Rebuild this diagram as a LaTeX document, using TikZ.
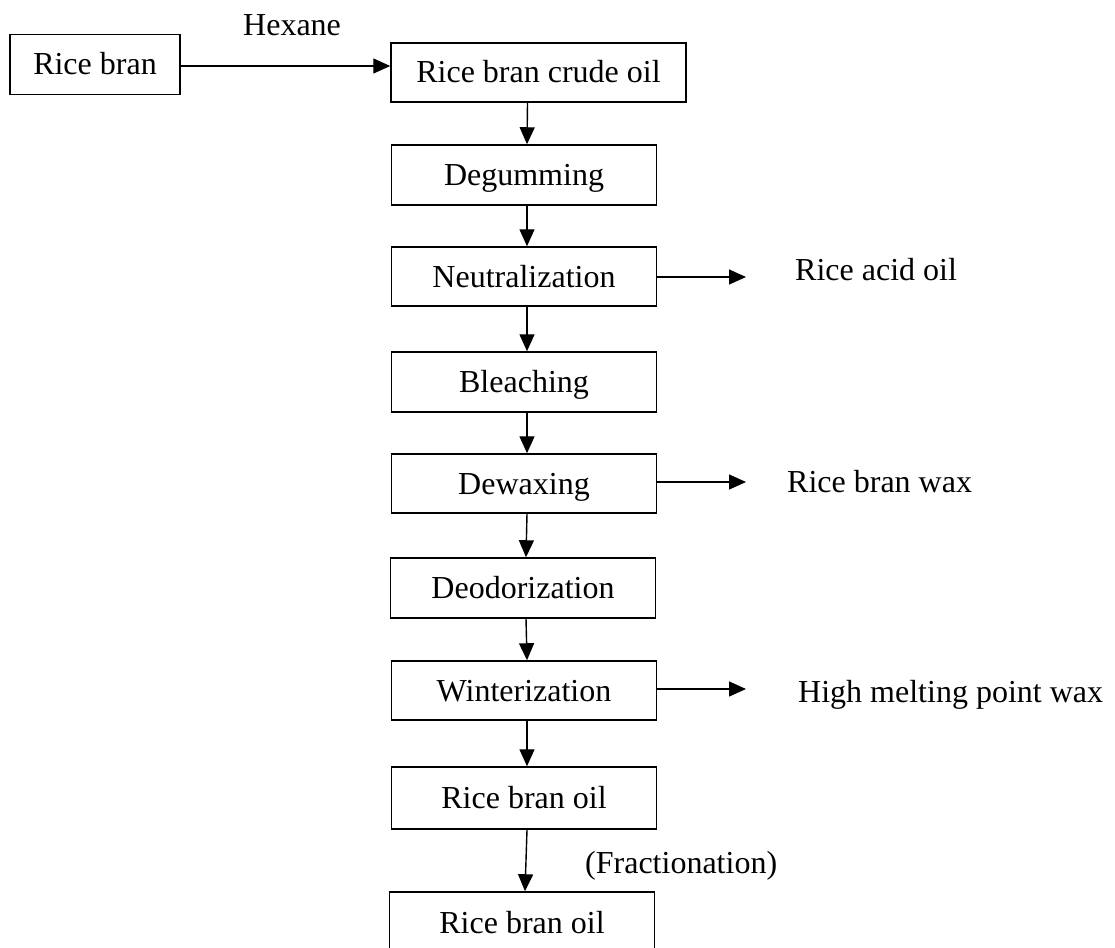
\documentclass[tikz,border=0pt]{standalone}
\usepackage{fontspec}
\setmainfont{Liberation Serif}
\usetikzlibrary{arrows.meta}
\begin{document}
\begin{tikzpicture}[x=1pt,y=-1pt,
  every node/.style={font=\fontsize{32}{38}\selectfont},
  procbox/.style={draw,line width=1.5pt,minimum height=60pt,minimum width=265pt,inner sep=0pt,text height=21pt,text depth=0pt},
  lbl/.style={anchor=base west,inner sep=0pt},
  arr/.style={line width=1.4pt,-{Triangle[length=17pt,width=15pt]}}]
\useasboundingbox (0,0) rectangle (1115,947);
\clip (0,0) rectangle (1115,947);
\node[procbox,minimum width=170pt] (rb) at (95,64.5) {Rice bran};
\node[procbox,minimum width=295pt,minimum height=59pt] (crude) at (538.5,72.5) {Rice bran crude oil};
\node[procbox] (deg) at (524,175) {Degumming};
\node[procbox,minimum height=59pt] (neu) at (524,276.5) {Neutralization};
\node[procbox] (ble) at (524,382) {Bleaching};
\node[procbox,minimum height=59pt] (dew) at (524,483.5) {Dewaxing};
\node[procbox] (deo) at (523,588) {Deodorization};
\node[procbox,minimum height=59pt] (win) at (524,690.5) {Winterization};
\node[procbox,minimum height=62pt] (rbo) at (524,798) {Rice bran oil};
\node[procbox,minimum height=62pt] (fin) at (522,923) {Rice bran oil};
\node[lbl] (hex) at (243,36) {Hexane};
\node[lbl] (rao) at (795,280) {Rice acid oil};
\node[lbl] (rbw) at (787,492) {Rice bran wax};
\node[lbl] (hmw) at (798,702) {High melting point wax};
\node[lbl] (frac) at (585,873) {(Fractionation)};
\coordinate (neuEnd) at (746,277);
\coordinate (dewEnd) at (746,482);
\coordinate (winEnd) at (746,689);
\draw[arr] (rb.east |- 0,66) -- (crude.west |- 0,66);
\draw[arr] ([xshift=-11pt]crude.south) -- ([xshift=3pt]deg.north);
\draw[arr] ([xshift=3pt]deg.south) -- ([xshift=3pt]neu.north);
\draw[arr] ([xshift=3pt]neu.south) -- ([xshift=3pt]ble.north);
\draw[arr] ([xshift=3pt]ble.south) -- ([xshift=3pt]dew.north);
\draw[arr] ([xshift=3pt]dew.south) -- ([xshift=3pt]deo.north);
\draw[arr] ([xshift=3pt]deo.south) -- ([xshift=3pt]win.north);
\draw[arr] ([xshift=3pt]win.south) -- ([xshift=3pt]rbo.north);
\draw[arr] ([xshift=3pt]rbo.south) -- ([xshift=3pt]fin.north);
\draw[arr] (neu.east |- neuEnd) -- (neuEnd);
\draw[arr] (dew.east |- dewEnd) -- (dewEnd);
\draw[arr] (win.east |- winEnd) -- (winEnd);
\end{tikzpicture}
\end{document}
